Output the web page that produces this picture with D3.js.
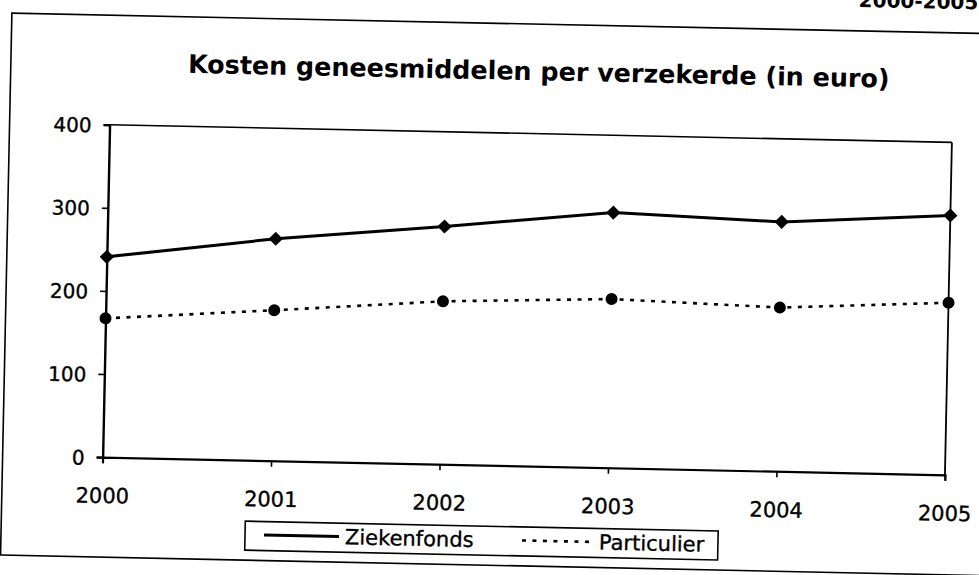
<!DOCTYPE html>
<html>
<head>
<meta charset="utf-8">
<script src="https://cdn.jsdelivr.net/npm/d3@7"></script>
<style>
  html, body { margin: 0; padding: 0; background: #fff; }
  svg { display: block; }
  text { font-family: "DejaVu Sans", Verdana, sans-serif; fill: #000; }
</style>
</head>
<body>
<script>
// ---- data ----
const years = ["2000", "2001", "2002", "2003", "2004", "2005"];
const ziekenfonds = [241, 267, 286, 307, 300, 312];
const particulier = [167, 181, 196, 203, 197, 207];
const yTicks = [0, 100, 200, 300, 400];
const seriesNames = ["Ziekenfonds", "Particulier"];
const titleText = "Kosten geneesmiddelen per verzekerde (in euro)";

// ---- layout ----
const W = 979, H = 575;
const plot = { left: 106, right: 948.5, top: 133.5, bottom: 466 };

const svg = d3.select("body").append("svg")
  .attr("width", W).attr("height", H);

svg.append("rect").attr("width", W).attr("height", H).attr("fill", "#fff");

// slightly skewed scan: whole page is rotated a little
const page = svg.append("g").attr("transform", "rotate(1.2, 527, 300)");

// cut-off heading of the document above the chart
page.append("text")
  .attr("x", 972).attr("y", 0)
  .attr("text-anchor", "end")
  .attr("font-size", 20).attr("font-weight", "bold")
  .text("2000-2005");

// outer chart frame
page.append("rect")
  .attr("x", 6).attr("y", 24).attr("width", 990).attr("height", 542)
  .attr("fill", "none").attr("stroke", "#000").attr("stroke-width", 1.6);

// scales
const x = d3.scalePoint().domain(years).range([plot.left, plot.right]);
const y = d3.scaleLinear().domain([0, 400]).range([plot.bottom, plot.top]);

// title
const title = page.append("text")
  .attr("x", 534).attr("y", 80)
  .attr("text-anchor", "middle")
  .attr("font-weight", "bold")
  .attr("font-size", 20)
  .text(titleText);
const tl = title.node().getComputedTextLength();
title.attr("font-size", 20 * 702 / tl);

// plot-area border (top and right)
page.append("line")
  .attr("x1", plot.left).attr("x2", plot.right)
  .attr("y1", plot.top).attr("y2", plot.top)
  .attr("stroke", "#000").attr("stroke-width", 1.6);
page.append("line")
  .attr("x1", plot.right).attr("x2", plot.right)
  .attr("y1", plot.top).attr("y2", plot.bottom)
  .attr("stroke", "#000").attr("stroke-width", 1.8);

// y axis
const yAxis = page.append("g")
  .attr("transform", `translate(${plot.left},0)`)
  .call(d3.axisLeft(y).tickValues(yTicks).tickSize(6).tickPadding(12).tickFormat(d3.format("d")));
yAxis.select(".domain").attr("stroke", "#000").attr("stroke-width", 2.4);
yAxis.selectAll(".tick line").attr("stroke", "#000").attr("stroke-width", 1.6);
yAxis.selectAll(".tick text")
  .attr("font-size", 20).attr("font-family", "DejaVu Sans")
  .attr("dy", "0.37em")
  .attr("stroke", "#000").attr("stroke-width", 0.35);

// x axis
const xAxis = page.append("g")
  .attr("transform", `translate(0,${plot.bottom})`)
  .call(d3.axisBottom(x).tickSize(6).tickPadding(25));
xAxis.select(".domain").attr("stroke", "#000").attr("stroke-width", 2.2);
xAxis.selectAll(".tick line").attr("stroke", "#000").attr("stroke-width", 1.6);
xAxis.selectAll(".tick text")
  .attr("font-size", 21).attr("font-family", "DejaVu Sans")
  .attr("dy", "0.71em")
  .attr("stroke", "#000").attr("stroke-width", 0.35);

// lines
const line = d3.line().x((d, i) => x(years[i])).y(d => y(d));

page.append("path")
  .datum(ziekenfonds)
  .attr("d", line)
  .attr("fill", "none").attr("stroke", "#000").attr("stroke-width", 3);

page.append("path")
  .datum(particulier)
  .attr("d", line)
  .attr("fill", "none").attr("stroke", "#000").attr("stroke-width", 2.6)
  .attr("stroke-dasharray", "4 6.5");

// markers
const diamond = d3.symbol().type(d3.symbolSquare).size(100);
page.selectAll(".zf").data(ziekenfonds).enter().append("path")
  .attr("class", "zf")
  .attr("d", diamond)
  .attr("transform", (d, i) => `translate(${x(years[i])},${y(d)}) rotate(45)`)
  .attr("fill", "#000");

page.selectAll(".pc").data(particulier).enter().append("circle")
  .attr("class", "pc")
  .attr("cx", (d, i) => x(years[i])).attr("cy", d => y(d))
  .attr("r", 6)
  .attr("fill", "#000");

// legend
const lg = page.append("g");
lg.append("rect")
  .attr("x", 250).attr("y", 527).attr("width", 473).attr("height", 29)
  .attr("fill", "#fff").attr("stroke", "#000").attr("stroke-width", 1.6);
lg.append("line")
  .attr("x1", 269).attr("x2", 344).attr("y1", 540.5).attr("y2", 540.5)
  .attr("stroke", "#000").attr("stroke-width", 3);
lg.append("text")
  .attr("x", 350).attr("y", 548)
  .attr("font-size", 21)
  .attr("stroke", "#000").attr("stroke-width", 0.35)
  .text(seriesNames[0]);
lg.append("line")
  .attr("x1", 527).attr("x2", 594).attr("y1", 540.5).attr("y2", 540.5)
  .attr("stroke", "#000").attr("stroke-width", 2.6)
  .attr("stroke-dasharray", "4 6.5");
lg.append("text")
  .attr("x", 604).attr("y", 548)
  .attr("font-size", 21)
  .attr("stroke", "#000").attr("stroke-width", 0.35)
  .text(seriesNames[1]);
</script>
</body>
</html>
